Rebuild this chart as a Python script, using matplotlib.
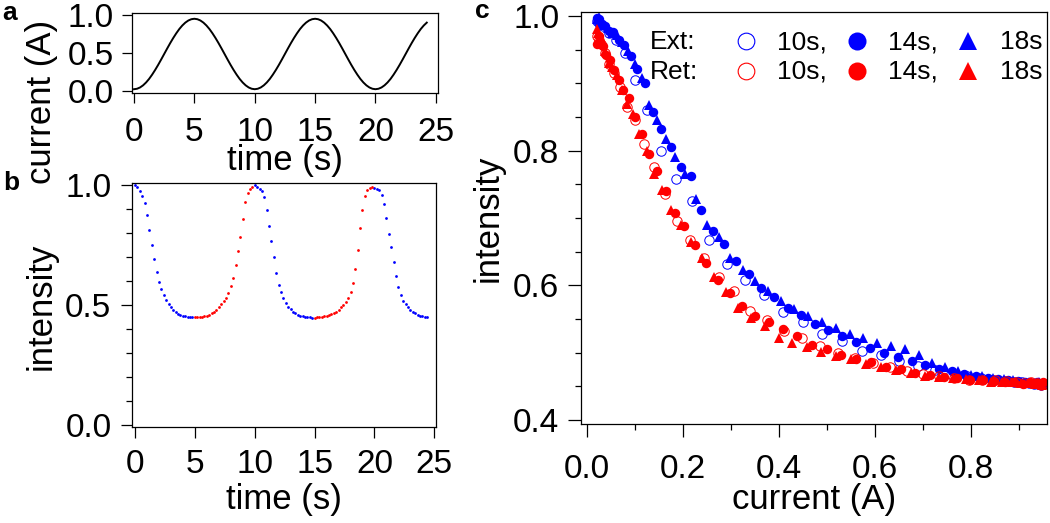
import numpy as np
import matplotlib
matplotlib.use("Agg")
import matplotlib.pyplot as plt
from matplotlib.ticker import MultipleLocator

plt.rcParams['font.family'] = ['Liberation Sans', 'DejaVu Sans']

# ---- panel a: driving current (0.25 s sampling)
a_time = np.arange(0, 24.3, 0.25)
a_current = [0.020, 0.026, 0.043, 0.071, 0.109, 0.156, 0.212, 0.274, 0.341, 0.412,
             0.485, 0.558, 0.629, 0.696, 0.758, 0.814, 0.861, 0.899, 0.927, 0.944,
             0.950, 0.944, 0.927, 0.899, 0.861, 0.814, 0.758, 0.696, 0.629, 0.558,
             0.485, 0.412, 0.341, 0.274, 0.212, 0.156, 0.109, 0.071, 0.043, 0.026,
             0.020, 0.026, 0.043, 0.071, 0.109, 0.156, 0.212, 0.274, 0.341, 0.412,
             0.485, 0.558, 0.629, 0.696, 0.758, 0.814, 0.861, 0.899, 0.927, 0.944,
             0.950, 0.944, 0.927, 0.899, 0.861, 0.814, 0.758, 0.696, 0.629, 0.558,
             0.485, 0.412, 0.341, 0.274, 0.212, 0.156, 0.109, 0.071, 0.043, 0.026,
             0.020, 0.026, 0.043, 0.071, 0.109, 0.156, 0.212, 0.274, 0.341, 0.412,
             0.485, 0.558, 0.629, 0.696, 0.758, 0.814, 0.861, 0.899]

# ---- panel b: intensity vs time (0.2 s sampling)
b_time = np.arange(0, 24.5, 0.2)
b_intensity = [
    # 0 - 4.8 (ext)
    1.000, 0.992, 0.975, 0.955, 0.925, 0.876, 0.812, 0.748, 0.690, 0.636,
    0.595, 0.566, 0.540, 0.519, 0.503, 0.490, 0.479, 0.470, 0.463, 0.459,
    0.455, 0.452, 0.450, 0.449, 0.448,
    # 5 - 9.8 (ret)
    0.448, 0.449, 0.450, 0.451, 0.453, 0.456, 0.460, 0.465, 0.472, 0.481,
    0.490, 0.502, 0.515, 0.530, 0.550, 0.577, 0.612, 0.668, 0.725, 0.785,
    0.860, 0.928, 0.968, 0.982, 0.990,
    # 10 - 14.8 (ext)
    0.998, 0.992, 0.985, 0.975, 0.950, 0.895, 0.828, 0.768, 0.700, 0.632,
    0.585, 0.555, 0.530, 0.510, 0.493, 0.482, 0.472, 0.465, 0.460, 0.456,
    0.453, 0.450, 0.449, 0.448, 0.447,
    # 15 - 19.8 (ret)
    0.447, 0.448, 0.449, 0.450, 0.452, 0.454, 0.457, 0.461, 0.466, 0.472,
    0.480, 0.490, 0.500, 0.513, 0.530, 0.553, 0.590, 0.648, 0.730, 0.820,
    0.895, 0.955, 0.980, 0.988, 0.990,
    # 20 - 24.4 (ext)
    0.988, 0.985, 0.978, 0.958, 0.920, 0.862, 0.795, 0.740, 0.680, 0.622,
    0.575, 0.540, 0.517, 0.502, 0.490, 0.480, 0.472, 0.466, 0.460, 0.456,
    0.452, 0.450, 0.448]
b_ret_windows = [(5, 10), (15, 20)]

# ---- panel c: intensity vs current
ext10_c = [0.020, 0.025, 0.033, 0.045, 0.060, 0.079, 0.101, 0.126, 0.155, 0.186,
           0.219, 0.254, 0.291, 0.329, 0.368, 0.408, 0.449, 0.490, 0.531, 0.572,
           0.612, 0.651, 0.689, 0.725, 0.759, 0.791, 0.820, 0.846, 0.869, 0.889,
           0.906, 0.920, 0.931, 0.940, 0.946, 0.950]
ext10_i = [0.992, 0.990, 0.985, 0.975, 0.965, 0.945, 0.905, 0.860, 0.800, 0.758,
           0.725, 0.668, 0.632, 0.608, 0.585, 0.560, 0.545, 0.528, 0.518, 0.502,
           0.496, 0.488, 0.480, 0.474, 0.469, 0.465, 0.462, 0.460, 0.458, 0.457,
           0.456, 0.455, 0.454, 0.453, 0.452, 0.453]

ext14_c = [0.020, 0.022, 0.026, 0.031, 0.038, 0.046, 0.055, 0.066, 0.078, 0.091,
           0.105, 0.120, 0.137, 0.155, 0.174, 0.195, 0.216, 0.238, 0.262, 0.286,
           0.311, 0.337, 0.363, 0.390, 0.418, 0.446, 0.474, 0.503, 0.532, 0.561,
           0.590, 0.619, 0.648, 0.677, 0.705, 0.733, 0.760, 0.786, 0.811, 0.835,
           0.857, 0.878, 0.897, 0.913, 0.927, 0.938, 0.945, 0.949]
ext14_i = [0.997, 0.993, 0.995, 0.988, 0.985, 0.978, 0.976, 0.965, 0.957, 0.940,
           0.922, 0.900, 0.858, 0.832, 0.805, 0.776, 0.762, 0.712, 0.680, 0.662,
           0.636, 0.617, 0.596, 0.582, 0.566, 0.556, 0.543, 0.534, 0.524, 0.516,
           0.507, 0.500, 0.493, 0.487, 0.481, 0.476, 0.472, 0.468, 0.466, 0.463,
           0.461, 0.460, 0.458, 0.457, 0.455, 0.456, 0.453, 0.455]

ext18_c = [0.021, 0.024, 0.029, 0.035, 0.043, 0.052, 0.062, 0.073, 0.086, 0.099,
           0.114, 0.129, 0.146, 0.164, 0.184, 0.205, 0.227, 0.250, 0.274, 0.298,
           0.324, 0.350, 0.377, 0.404, 0.432, 0.460, 0.489, 0.518, 0.547, 0.576,
           0.605, 0.634, 0.663, 0.691, 0.719, 0.746, 0.773, 0.799, 0.823, 0.846,
           0.868, 0.888, 0.905, 0.920, 0.932, 0.941, 0.947]
ext18_i = [0.995, 0.998, 0.990, 0.986, 0.982, 0.975, 0.972, 0.962, 0.948, 0.928,
           0.908, 0.868, 0.845, 0.818, 0.790, 0.766, 0.728, 0.690, 0.672, 0.640,
           0.622, 0.606, 0.592, 0.577, 0.565, 0.554, 0.545, 0.536, 0.528, 0.522,
           0.515, 0.510, 0.505, 0.496, 0.485, 0.478, 0.472, 0.467, 0.465, 0.462,
           0.461, 0.459, 0.457, 0.456, 0.455, 0.457, 0.454]

ret10_c = [0.950, 0.946, 0.938, 0.926, 0.911, 0.893, 0.872, 0.849, 0.823, 0.795,
           0.765, 0.734, 0.701, 0.667, 0.632, 0.596, 0.559, 0.522, 0.485, 0.448,
           0.411, 0.375, 0.340, 0.306, 0.274, 0.243, 0.214, 0.187, 0.162, 0.139,
           0.118, 0.099, 0.083, 0.068, 0.056, 0.045, 0.037, 0.030, 0.025, 0.021]
ret10_i = [0.454, 0.452, 0.455, 0.456, 0.455, 0.457, 0.458, 0.459, 0.459, 0.460,
           0.462, 0.465, 0.468, 0.472, 0.478, 0.485, 0.492, 0.500, 0.510, 0.522,
           0.532, 0.548, 0.562, 0.592, 0.612, 0.640, 0.668, 0.695, 0.735, 0.775,
           0.810, 0.845, 0.865, 0.895, 0.915, 0.928, 0.945, 0.958, 0.965, 0.970]

ret14_c = [0.949, 0.944, 0.935, 0.923, 0.908, 0.890, 0.870, 0.848, 0.824, 0.798,
           0.771, 0.743, 0.714, 0.684, 0.654, 0.623, 0.592, 0.561, 0.530, 0.499,
           0.468, 0.438, 0.408, 0.379, 0.351, 0.323, 0.297, 0.272, 0.248, 0.225,
           0.203, 0.183, 0.164, 0.146, 0.130, 0.115, 0.101, 0.088, 0.076, 0.066,
           0.056, 0.047, 0.040, 0.033, 0.028, 0.024, 0.021]
ret14_i = [0.456, 0.453, 0.455, 0.456, 0.454, 0.457, 0.456, 0.458, 0.460, 0.460,
           0.462, 0.464, 0.467, 0.470, 0.475, 0.479, 0.486, 0.490, 0.497, 0.506,
           0.512, 0.524, 0.535, 0.545, 0.555, 0.570, 0.588, 0.608, 0.633, 0.660,
           0.688, 0.708, 0.740, 0.770, 0.795, 0.825, 0.850, 0.878, 0.890, 0.905,
           0.920, 0.935, 0.942, 0.955, 0.962, 0.970, 0.958]

ret18_c = [0.948, 0.942, 0.933, 0.920, 0.904, 0.885, 0.864, 0.841, 0.816, 0.790,
           0.762, 0.734, 0.704, 0.674, 0.643, 0.612, 0.581, 0.550, 0.519, 0.488,
           0.458, 0.428, 0.399, 0.370, 0.342, 0.315, 0.289, 0.264, 0.240, 0.217,
           0.196, 0.176, 0.157, 0.140, 0.124, 0.109, 0.096, 0.083, 0.072, 0.062,
           0.053, 0.045, 0.038, 0.032, 0.027, 0.023, 0.020]
ret18_i = [0.452, 0.455, 0.453, 0.455, 0.455, 0.456, 0.457, 0.457, 0.459, 0.461,
           0.462, 0.464, 0.466, 0.470, 0.474, 0.478, 0.483, 0.490, 0.495, 0.501,
           0.508, 0.514, 0.521, 0.540, 0.552, 0.566, 0.590, 0.612, 0.640, 0.664,
           0.690, 0.712, 0.742, 0.765, 0.800, 0.825, 0.855, 0.870, 0.890, 0.912,
           0.925, 0.930, 0.948, 0.960, 0.968, 0.975, 0.980]

BLUE = '#0000ff'
RED = '#ff0000'
W, H = 1050, 523
TICK_FS = 24
LABEL_FS = 25


def fx(px):
    return px / W


def fy(py):
    return 1 - py / H


def axes_px(left, top, right, bottom):
    return fig.add_axes([fx(left), fy(bottom), (right - left) / W, (bottom - top) / H])


def style_axes(ax, major_len, xpad, ypad):
    for s in ax.spines.values():
        s.set_linewidth(0.9)
    ax.tick_params(which='major', direction='out', length=major_len, width=0.9,
                   labelsize=TICK_FS)
    ax.tick_params(which='minor', direction='out', length=4.5, width=0.9)
    ax.tick_params(axis='x', pad=xpad)
    ax.tick_params(axis='y', pad=ypad)


def label(px, py, s, rot=0):
    fig.text(fx(px), fy(py), s, fontsize=LABEL_FS, rotation=rot,
             ha='center', va='center')


fig = plt.figure(figsize=(W / 100, H / 100), dpi=100)

# panel a
ax_a = axes_px(132, 12.7, 438, 93.3)
ax_a.plot(a_time, a_current, color='black', lw=1.4)
ax_a.set_xlim(-0.166, 25.18)
ax_a.set_ylim(-0.034, 1.030)
ax_a.set_xticks([0, 5, 10, 15, 20, 25])
ax_a.set_yticks([0.0, 0.5, 1.0])
ax_a.set_yticklabels(['0.0', '0.5', '1.0'])
style_axes(ax_a, 7.2, 10, 6)
label(285, 161, 'time (s)')
label(42, 102, 'current (A)', rot=90)

# panel b
ax_b = axes_px(132, 183, 436, 426.7)
b_t = np.asarray(b_time)
b_i = np.asarray(b_intensity)
is_ret = np.zeros(len(b_t), dtype=bool)
for lo, hi in b_ret_windows:
    is_ret |= (b_t >= lo - 1e-9) & (b_t < hi - 1e-9)
ax_b.plot(b_t[~is_ret], b_i[~is_ret], 'o', color=BLUE, ms=2.0, mew=0)
ax_b.plot(b_t[is_ret], b_i[is_ret], 'o', color=RED, ms=2.0, mew=0)
ax_b.set_xlim(-0.25, 25.14)
ax_b.set_ylim(-0.007, 1.008)
ax_b.set_xticks([0, 5, 10, 15, 20, 25])
ax_b.set_yticks([0.0, 0.5, 1.0])
ax_b.set_yticklabels(['0.0', '0.5', '1.0'])
ax_b.yaxis.set_minor_locator(MultipleLocator(0.1))
style_axes(ax_b, 7.8, 8, 7)
label(284, 500, 'time (s)')
label(41, 306, 'intensity', rot=90)

# panel c
ax_c = axes_px(581, 11.7, 1047, 424)
ms_data = 6.8
ax_c.plot(ext10_c, ext10_i, 'o', mfc='none', mec=BLUE, mew=0.7, ms=ms_data)
ax_c.plot(ext14_c, ext14_i, 'o', color=BLUE, ms=ms_data, mew=0)
ax_c.plot(ext18_c, ext18_i, '^', color=BLUE, ms=ms_data, mew=0)
ax_c.plot(ret10_c, ret10_i, 'o', mfc='none', mec=RED, mew=0.7, ms=ms_data)
ax_c.plot(ret14_c, ret14_i, 'o', color=RED, ms=ms_data, mew=0)
ax_c.plot(ret18_c, ret18_i, '^', color=RED, ms=ms_data, mew=0)
ax_c.set_xlim(-0.0125, 0.9583)
ax_c.set_ylim(0.394, 1.0064)
ax_c.set_xticks([0.0, 0.2, 0.4, 0.6, 0.8])
ax_c.set_yticks([0.4, 0.6, 0.8, 1.0])
ax_c.xaxis.set_minor_locator(MultipleLocator(0.1))
ax_c.yaxis.set_minor_locator(MultipleLocator(0.05))
style_axes(ax_c, 9.5, 12, 6)
label(814, 500, 'current (A)')
label(488, 218, 'intensity', rot=90)

# panel c key: two rows of text and markers, placed in figure pixels
KEY_FS = 19
for row_label, base_y, col in [('Ext:', 49, BLUE), ('Ret:', 79, RED)]:
    mid_y = base_y - 8.5
    fig.text(fx(650), fy(base_y), row_label, fontsize=KEY_FS, va='baseline')
    fig.lines.append(plt.Line2D([fx(746)], [fy(mid_y)], transform=fig.transFigure,
                                marker='o', mfc='none', mec=col, mew=0.8, ms=12))
    fig.text(fx(777), fy(base_y), '10s,', fontsize=KEY_FS, va='baseline')
    fig.lines.append(plt.Line2D([fx(857)], [fy(mid_y)], transform=fig.transFigure,
                                marker='o', color=col, mew=0, ms=13))
    fig.text(fx(888), fy(base_y), '14s,', fontsize=KEY_FS, va='baseline')
    fig.lines.append(plt.Line2D([fx(968)], [fy(mid_y)], transform=fig.transFigure,
                                marker='^', color=col, mew=0, ms=13))
    fig.text(fx(1000), fy(base_y), '18s', fontsize=KEY_FS, va='baseline')

# panel letters
fig.text(fx(2), fy(1), 'a', fontsize=19, fontweight='bold', va='top')
fig.text(fx(3), fy(190), 'b', fontsize=19, fontweight='bold', va='baseline')
fig.text(fx(475), fy(18), 'c', fontsize=19, fontweight='bold', va='baseline')

fig.savefig('out.png', dpi=100)
